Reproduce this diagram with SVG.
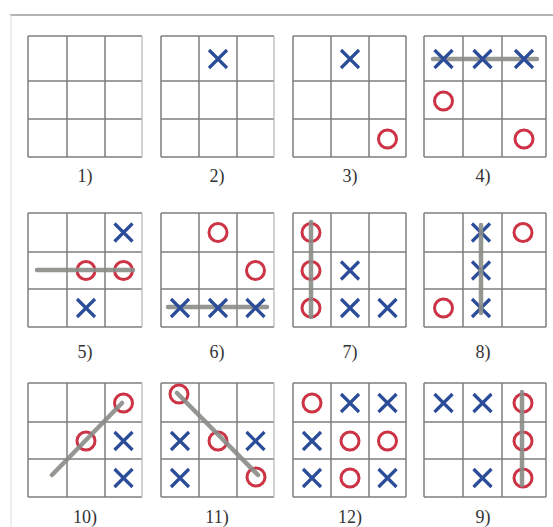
<svg xmlns="http://www.w3.org/2000/svg" xmlns:xlink="http://www.w3.org/1999/xlink" width="553" height="527" viewBox="0 0 553 527">
<style>
.grid{fill:none;stroke:#7f7f7f;stroke-width:1.5}
.edge{fill:none;stroke:#b5b5b5;stroke-width:1.2}
.xm{stroke:#2b4c98;stroke-width:3.2;fill:none}
.om{stroke:#cc3344;stroke-width:3;fill:none}
.win{stroke:#8a8c88;stroke-width:4.5;stroke-linecap:round;opacity:0.9}
.lbl{font-family:"Liberation Serif","Times New Roman",serif;font-size:18px;fill:#333;text-anchor:middle}
</style>
<defs>
<g id="X"><path class="xm" d="M-9,-9L9,9M9,-9L-9,9"/></g>
<g id="O"><circle class="om" r="9"/></g>
</defs>
<rect width="553" height="527" fill="#fff"/>
<path d="M10,15H553" stroke="#9a9a9a" stroke-width="1.6"/>
<path d="M11,15V527" stroke="#e2e2e2" stroke-width="1.2"/>

<g id="g1">
<path class="grid" d="M28,36V157M67,36V157M105,36V157M28,36H142M28,81H142M28,119H142M28,157H142"/>
<path class="edge" d="M142,36V157"/>
<text class="lbl" x="85" y="182">1)</text>
</g>
<g id="g2">
<path class="grid" d="M161,36V157M199,36V157M237,36V157M161,36H274M161,81H274M161,119H274M161,157H274"/>
<path class="edge" d="M274,36V157"/>
<use xlink:href="#X" x="218" y="59"/>
<text class="lbl" x="217" y="182">2)</text>
</g>
<g id="g3">
<path class="grid" d="M293,36V157M331,36V157M369,36V157M406,36V157M293,36H406M293,81H406M293,119H406M293,157H406"/>
<use xlink:href="#X" x="350" y="59"/>
<use xlink:href="#O" x="387.5" y="139"/>
<text class="lbl" x="350" y="182">3)</text>
</g>
<g id="g4">
<path class="grid" d="M424,36V157M463,36V157M502,36V157M546,36V157M424,36H546M424,81H546M424,119H546M424,157H546"/>
<path class="win" d="M433,59H537"/>
<use xlink:href="#X" x="443.5" y="59"/>
<use xlink:href="#X" x="482.5" y="59"/>
<use xlink:href="#X" x="524" y="59"/>
<use xlink:href="#O" x="443.5" y="101"/>
<use xlink:href="#O" x="524" y="139"/>
<text class="lbl" x="483" y="182">4)</text>
</g>

<g id="g5">
<path class="grid" d="M28,213V327M67,213V327M105,213V327M28,213H142M28,252H142M28,289H142M28,327H142"/>
<path class="edge" d="M142,213V327"/>
<use xlink:href="#X" x="123.5" y="232.5"/>
<use xlink:href="#O" x="86" y="270.5"/>
<use xlink:href="#O" x="123.5" y="270.5"/>
<use xlink:href="#X" x="86" y="308"/>
<text class="lbl" x="85" y="358">5)</text>
</g>
<g id="g6">
<path class="grid" d="M161,213V327M199,213V327M237,213V327M161,213H274M161,252H274M161,289H274M161,327H274"/>
<path class="edge" d="M274,213V327"/>
<use xlink:href="#O" x="218" y="232.5"/>
<use xlink:href="#O" x="255.5" y="270.5"/>
<path class="win" d="M168,307H267"/>
<use xlink:href="#X" x="180" y="308"/>
<use xlink:href="#X" x="218" y="308"/>
<use xlink:href="#X" x="255.5" y="308"/>
<text class="lbl" x="217" y="358">6)</text>
</g>
<g id="g7">
<path class="grid" d="M293,213V327M331,213V327M369,213V327M406,213V327M293,213H406M293,252H406M293,289H406M293,327H406"/>
<use xlink:href="#O" x="311" y="232.5"/>
<use xlink:href="#O" x="311" y="270.5"/>
<use xlink:href="#O" x="311" y="308"/>
<use xlink:href="#X" x="350" y="270.5"/>
<use xlink:href="#X" x="350" y="308"/>
<use xlink:href="#X" x="387.5" y="308"/>
<text class="lbl" x="350" y="358">7)</text>
</g>
<g id="g8">
<path class="grid" d="M424,213V327M463,213V327M502,213V327M546,213V327M424,213H546M424,252H546M424,289H546M424,327H546"/>
<use xlink:href="#X" x="481" y="232.5"/>
<use xlink:href="#X" x="481" y="270.5"/>
<use xlink:href="#X" x="481" y="308"/>
<use xlink:href="#O" x="523" y="232.5"/>
<use xlink:href="#O" x="443.5" y="308"/>
<text class="lbl" x="483" y="358">8)</text>
</g>

<g id="g10">
<path class="grid" d="M28,383V497M67,383V497M105,383V497M28,383H142M28,422H142M28,459H142M28,497H142"/>
<path class="edge" d="M142,383V497"/>
<use xlink:href="#O" x="123.5" y="403"/>
<use xlink:href="#O" x="86" y="441"/>
<use xlink:href="#X" x="123.5" y="441"/>
<use xlink:href="#X" x="123.5" y="478"/>
<text class="lbl" x="85" y="523">10)</text>
</g>
<g id="g11">
<path class="grid" d="M161,383V497M199,383V497M237,383V497M161,383H274M161,422H274M161,459H274M161,497H274"/>
<path class="edge" d="M274,383V497"/>
<use xlink:href="#O" x="179" y="394"/>
<use xlink:href="#X" x="180" y="441"/>
<use xlink:href="#O" x="218" y="441"/>
<use xlink:href="#X" x="255.5" y="441"/>
<use xlink:href="#X" x="180" y="478"/>
<use xlink:href="#O" x="256" y="477"/>
<text class="lbl" x="217" y="523">11)</text>
</g>
<g id="g12">
<path class="grid" d="M293,383V497M331,383V497M369,383V497M406,383V497M293,383H406M293,422H406M293,459H406M293,497H406"/>
<use xlink:href="#O" x="312" y="403"/>
<use xlink:href="#X" x="350" y="403"/>
<use xlink:href="#X" x="387.5" y="403"/>
<use xlink:href="#X" x="312" y="441"/>
<use xlink:href="#O" x="350" y="441"/>
<use xlink:href="#O" x="387.5" y="441"/>
<use xlink:href="#X" x="312" y="478"/>
<use xlink:href="#O" x="350" y="478"/>
<use xlink:href="#X" x="387.5" y="478"/>
<text class="lbl" x="350" y="523">12)</text>
</g>
<g id="g9">
<path class="grid" d="M424,383V497M463,383V497M502,383V497M546,383V497M424,383H546M424,422H546M424,459H546M424,497H546"/>
<use xlink:href="#X" x="443.5" y="403"/>
<use xlink:href="#X" x="482.5" y="403"/>
<use xlink:href="#O" x="523" y="403"/>
<use xlink:href="#O" x="523" y="441"/>
<use xlink:href="#X" x="482.5" y="478"/>
<use xlink:href="#O" x="523" y="478"/>
<text class="lbl" x="483" y="523">9)</text>
</g>

<g id="connectors">
<path class="win" d="M37,270H133"/>
<path class="win" d="M311,222V317"/>
<path class="win" d="M481,225V313"/>
<path class="win" d="M52,475L122,403"/>
<path class="win" d="M177,393L258,475"/>
<path class="win" d="M522,392V485"/>
</g>
</svg>
